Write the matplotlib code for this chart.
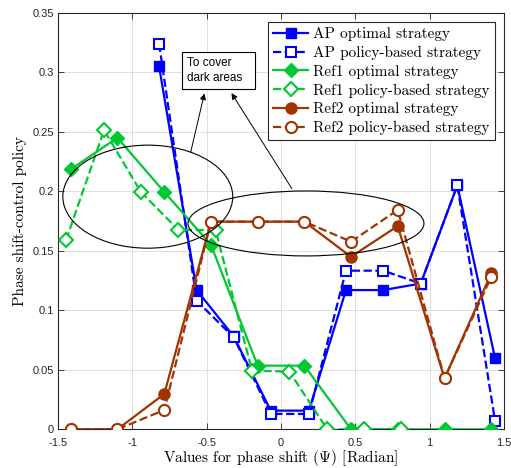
import matplotlib
matplotlib.use('Agg')
import matplotlib.pyplot as plt
from matplotlib.patches import Ellipse, Rectangle
import numpy as np

matplotlib.rcParams['mathtext.fontset'] = 'cm'

# 数据
x_opt = [-1.414, -1.100, -0.785, -0.471, -0.157, 0.157, 0.471, 0.785, 1.100, 1.414]
x_ap = [-0.82, -0.567, -0.318, -0.069, 0.188, 0.437, 0.688, 0.94, 1.186, 1.44]
ap_opt = [0.305, 0.117, 0.078, 0.0157, 0.0157, 0.117, 0.117, 0.1225, 0.205, 0.0597]
ap_pol = [0.324, 0.108, 0.0773, 0.0129, 0.0129, 0.1333, 0.1333, 0.1225, 0.205, 0.007]

ref1_opt = [0.2185, 0.245, 0.1994, 0.155, 0.0535, 0.0535, 0.0, 0.0, 0.0, 0.0]
x_ref1_pol = [-1.446, -1.19, -0.944, -0.69, -0.44, -0.195, 0.056, 0.311, 0.56, 0.81]
ref1_pol = [0.159, 0.2515, 0.1997, 0.1675, 0.1675, 0.0493, 0.0485, 0.0, 0.0, 0.0]

ref2_opt = [0.0, 0.0, 0.0297, 0.1745, 0.1745, 0.1745, 0.145, 0.1708, 0.0428, 0.131]
ref2_pol = [0.0, 0.0, 0.0162, 0.1745, 0.1745, 0.1745, 0.1577, 0.1843, 0.0428, 0.128]

labels = ['AP optimal strategy', 'AP policy-based strategy',
          'Ref1 optimal strategy', 'Ref1 policy-based strategy',
          'Ref2 optimal strategy', 'Ref2 policy-based strategy']

blue = '#0000ff'
green = '#00c832'
brown = '#a23400'

fig = plt.figure(figsize=(5.11, 4.68), dpi=100)
ax = fig.add_axes([0.1135, 0.0827, 0.8728, 0.8899])

lw = 1.6
ms = 7
ax.plot(x_ap, ap_opt, '-', color=blue, lw=lw, marker='s', ms=ms, mfc=blue, label=labels[0], zorder=3)
ax.plot(x_ap, ap_pol, '--', color=blue, lw=lw, marker='s', ms=ms, mfc='white', mew=1.5, label=labels[1], zorder=3)
ax.plot(x_opt, ref1_opt, '-', color=green, lw=lw, marker='D', ms=ms, mfc=green, label=labels[2], zorder=3)
ax.plot(x_ref1_pol, ref1_pol, '--', color=green, lw=lw, marker='D', ms=ms, mfc='white', mew=1.5, label=labels[3], zorder=3)
ax.plot(x_opt, ref2_opt, '-', color=brown, lw=lw, marker='o', ms=8, mfc=brown, label=labels[4], zorder=3)
ax.plot(x_opt, ref2_pol, '--', color=brown, lw=lw, marker='o', ms=8, mfc='white', mew=1.5, label=labels[5], zorder=3)

# 椭圆标注
ax.add_patch(Ellipse((-0.896, 0.1955), 1.143, 0.0866, fill=False, ec='black', lw=0.8, zorder=4))
ax.add_patch(Ellipse((0.168, 0.173), 1.587, 0.0546, fill=False, ec='black', lw=0.8, zorder=4))

# 文本框与箭头
ax.add_patch(Rectangle((-0.666, 0.286), 0.491, 0.031, fill=True, fc='white', ec='black', lw=0.8, zorder=5))
ax.text(-0.632, 0.3015, 'To cover\ndark areas', fontsize=8.5, family='Liberation Sans',
        va='center', ha='left', linespacing=1.25, zorder=6)
ax.annotate('', xy=(-0.511, 0.2845), xytext=(-0.612, 0.2305),
            arrowprops=dict(arrowstyle='-|>', color='black', lw=0.7, mutation_scale=9), zorder=5)
ax.annotate('', xy=(-0.343, 0.2845), xytext=(0.083, 0.2003),
            arrowprops=dict(arrowstyle='-|>', color='black', lw=0.7, mutation_scale=9), zorder=5)

ax.set_xlim(-1.5, 1.5)
ax.set_ylim(0, 0.35)
ax.set_xticks([-1.5, -1, -0.5, 0, 0.5, 1, 1.5])
ax.set_xticklabels(['-1.5', '-1', '-0.5', '0', '0.5', '1', '1.5'])
ax.set_yticks([0, 0.05, 0.1, 0.15, 0.2, 0.25, 0.3, 0.35])
ax.set_yticklabels(['0', '0.05', '0.1', '0.15', '0.2', '0.25', '0.3', '0.35'])
ax.tick_params(direction='in', top=True, right=True, length=4, width=0.6,
               labelsize=8, colors='#262626')
ax.tick_params(axis='x', pad=6)
ax.tick_params(axis='y', pad=3)
for lab in ax.get_xticklabels() + ax.get_yticklabels():
    lab.set_family('Liberation Sans')
for s in ax.spines.values():
    s.set_color('#262626')
    s.set_linewidth(0.8)
ax.grid(True, color='#dfdfdf', lw=0.7)
ax.set_axisbelow(True)

ax.set_xlabel(r'Values for phase shift ($\Psi$) [Radian]', family='cmr10', fontsize=11, labelpad=0.5)
ax.set_ylabel('Phase shift-control policy', family='cmr10', fontsize=11, labelpad=4)

leg = ax.legend(loc='upper right', prop={'family': 'cmr10', 'size': 11}, fancybox=False,
                edgecolor='#262626', framealpha=1, handlelength=2.3, labelspacing=0.3,
                borderpad=0.35, handletextpad=0.3, borderaxespad=0.6)
leg.get_frame().set_linewidth(0.8)
leg.set_zorder(6)

fig.savefig('out.png', dpi=100)
